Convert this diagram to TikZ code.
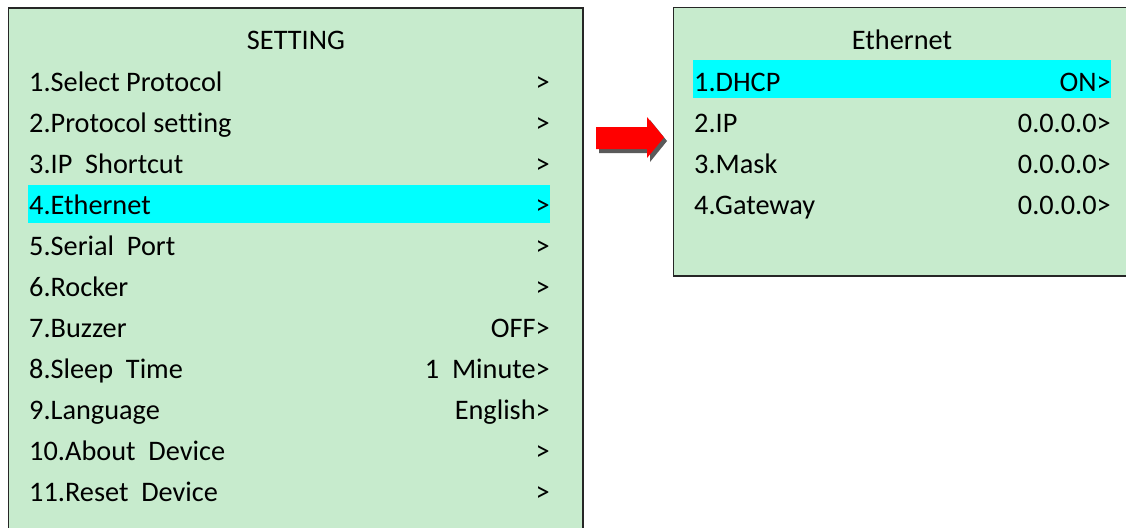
\documentclass[tikz,border=0pt]{standalone}
\usepackage{fontspec}
\setmainfont[Ligatures={NoCommon}]{Carlito}
\definecolor{panelgreen}{RGB}{199,235,205}
\definecolor{hilite}{RGB}{0,255,255}
\definecolor{arrowred}{RGB}{255,0,0}
\definecolor{shadowgray}{RGB}{90,90,90}
\begin{document}
\begin{tikzpicture}[x=1pt,y=-1pt,
  panel/.style={draw=black!85,line width=1.3pt,fill=panelgreen},
  lbl/.style={anchor=base west,inner sep=0pt,font=\fontsize{28.3}{33}\selectfont},
  val/.style={anchor=base east,inner sep=0pt,font=\fontsize{28.3}{33}\selectfont},
  ttl/.style={anchor=base,inner sep=0pt,font=\fontsize{28.3}{33}\selectfont}]
\useasboundingbox (0,0) rectangle (1126,527);
% panels
\draw[panel] (8.5,8) rectangle (583,540);
\draw[panel] (673.5,7.5) rectangle (1140,276);
% highlights
\fill[hilite] (28,185) rectangle (550,223);
\fill[hilite] (693,60) rectangle (1111,98);
% left panel
\node[ttl] (lt) at (296,50) {SETTING};
\foreach \i/\a/\b in {1/1.Select Protocol/{>},2/2.Protocol setting/{>},3/{3.IP~ Shortcut}/{>},4/4.Ethernet/{>},5/{5.Serial~ Port}/{>},6/6.Rocker/{>},7/7.Buzzer/{OFF>},8/{8.Sleep~ Time}/{1~ Minute>},9/9.Language/{English>},10/{10.About~ Device}/{>},11/{11.Reset~ Device}/{>}}{
  \node[lbl] (l\i) at (29,{91+41*(\i-1)}) {\a};
  \node[val] (lv\i) at (550,{91+41*(\i-1)}) {\b};
}
% right panel
\node[ttl] (rt) at (902,50) {Ethernet};
\foreach \i/\a/\b in {1/1.DHCP/{ON>},2/2.IP/{0.0.0.0>},3/3.Mask/{0.0.0.0>},4/4.Gateway/{0.0.0.0>}}{
  \node[lbl] (r\i) at (694,{91+41*(\i-1)}) {\a};
  \node[val] (rv\i) at (1111,{91+41*(\i-1)}) {\b};
}
% arrow with shadow
\fill[shadowgray] (599,131) -- (650,131) -- (650,120) -- (667,141) -- (650,162) -- (650,153) -- (599,153) -- cycle;
\fill[arrowred] (596,127) -- (647,127) -- (647,117) -- (664,137.5) -- (647,158) -- (647,149) -- (596,149) -- cycle;
\end{tikzpicture}
\end{document}
